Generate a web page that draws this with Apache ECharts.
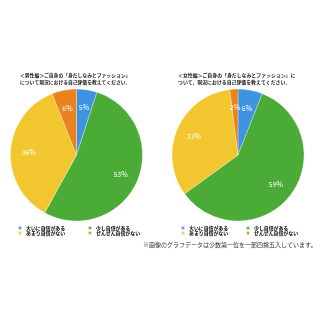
<!DOCTYPE html>
<html><head><meta charset="utf-8">
<script src="https://cdn.jsdelivr.net/npm/echarts@6/dist/echarts.min.js"></script>
<style>html,body{margin:0;padding:0;background:#fff}#c{width:320px;height:320px}</style>
</head><body><div id="c"></div>
<script>
const categories = ['大いに自信がある', '少し自信がある', 'あまり自信がない', 'ぜんぜん自信がない'];
const maleValues = [5, 53, 36, 6];
const femaleValues = [6, 59, 33, 2];
const colors = ['#3f93e3', '#4aab36', '#f1c62e', '#e9821f'];
const maleTitle = ['＜男性編＞ご自身の「身だしなみとファッション」', 'について現況における自己評価を教えてください。'];
const femaleTitle = ['＜女性編＞ご自身の「身だしなみとファッション」に', 'ついて、現況における自己評価を教えてください。'];
const footnote = '※画像のグラフデータは少数第一位を一部四捨五入しています。';

const font = '"Noto Sans CJK JP", sans-serif';
function toData(vals){ return categories.map((n,i)=>({name:n, value:vals[i], itemStyle:{color:colors[i]}})); }
function pieSeries(vals, cx){
  return [{
    type:'pie', center:[cx,155], radius:66, startAngle:90, clockwise:true,
    data: toData(vals), label:{show:false}, labelLine:{show:false},
    itemStyle:{borderColor:'rgba(255,255,255,0.6)', borderWidth:0.5},
    emphasis:{disabled:true}, silent:true, animation:false
  },{
    type:'pie', center:[cx,155], radius:[24,66], startAngle:90, clockwise:true,
    data: categories.map((n,i)=>({name:n, value:vals[i], itemStyle:{color:'rgba(0,0,0,0)'}})),
    label:{show:true, position:'inside', formatter:'{c}%', color:'#fff', fontSize:7, fontFamily:font},
    labelLine:{show:false}, emphasis:{disabled:true}, silent:true, animation:false, z:3
  }];
}
function legends(x1, colW){
  const mk = (names, top) => ({
    left:x1, top:top, orient:'horizontal', icon:'circle', itemWidth:4, itemHeight:4, itemGap:0,
    padding:0, selectedMode:false,
    textStyle:{fontSize:4.9, lineHeight:5, fontFamily:font, color:'#000', padding:[0,0,0,-1], width:colW, fontWeight:'bold'},
    data: names.map(n=>({name:n, itemStyle:{color:colors[categories.indexOf(n)]}}))
  });
  return [mk([categories[0],categories[1]], 225), mk([categories[2],categories[3]], 230)];
}
const chart = echarts.init(document.getElementById('c'), null, {renderer:'canvas'});
chart.setOption({
  backgroundColor:'#fff',
  animation:false,
  graphic:[
    {type:'text', left:20, top:72, style:{text:maleTitle.join('\n'), fontSize:4.8, lineHeight:7, fontFamily:font, fontWeight:'bold', fill:'#222'}},
    {type:'text', left:178, top:72, style:{text:femaleTitle.join('\n'), fontSize:4.9, lineHeight:7, fontFamily:font, fontWeight:'bold', fill:'#222'}},
    {type:'text', left:143, top:242, style:{text:footnote, fontSize:6.0, fontFamily:font, fill:'#333'}}
  ],
  legend: [...legends(17, 61), ...legends(180, 56)],
  series: [...pieSeries(maleValues, 76.5), ...pieSeries(femaleValues, 238)]
});
</script></body></html>
